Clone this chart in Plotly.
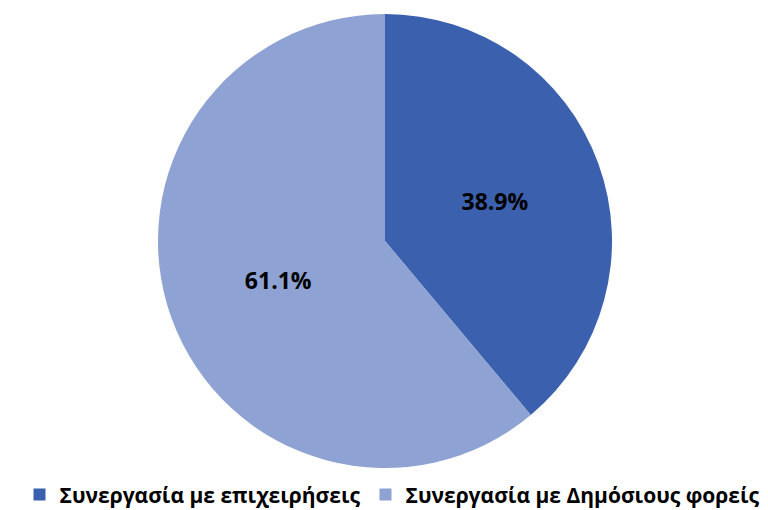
import plotly.graph_objects as go

labels = ["Συνεργασία με επιχειρήσεις", "Συνεργασία με Δημόσιους φορείς"]
values = [38.9, 61.1]
colors = ["#3b61ae", "#8ea2d3"]

W, H = 768, 510
FONT = "Open Sans, Lato, sans-serif"
fig = go.Figure(go.Pie(
    labels=labels,
    values=values,
    sort=False,
    direction="clockwise",
    rotation=0,
    marker=dict(colors=colors, line=dict(width=0)),
    texttemplate="%{value:.1f}%",
    textposition="inside",
    insidetextorientation="horizontal",
    textfont=dict(family=FONT, size=23, color="black", weight="bold"),
    domain=dict(x=[150 / W, 604 / W], y=[(H - 460) / H, (H - 6) / H]),
    hoverinfo="skip",
))

fig.update_layout(
    width=W, height=H,
    margin=dict(l=0, r=0, t=0, b=0),
    paper_bgcolor="white",
    showlegend=True,
    legend=dict(
        orientation="h",
        x=0.5, xanchor="center",
        y=0.005, yanchor="bottom",
        font=dict(family=FONT, size=21, color="black", weight="bold"),
        itemwidth=30,
        traceorder="normal",
    ),
)

fig.write_html("out.html")
